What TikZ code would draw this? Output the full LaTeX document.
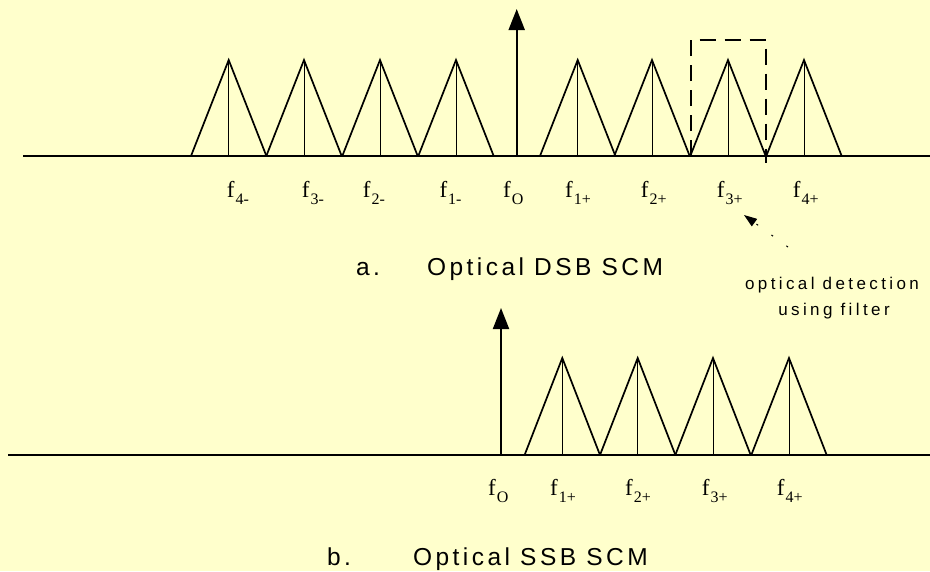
\documentclass[tikz,border=0pt]{standalone}
\usepackage{fontspec}
\setmainfont{Liberation Serif}
\newfontfamily\capfont[LetterSpace=14]{Liberation Sans}
\newfontfamily\notefont[LetterSpace=20]{Liberation Sans}
\usetikzlibrary{arrows.meta}
\definecolor{bgyellow}{RGB}{255,255,204}
\newcommand\fsub[1]{\kern1pt\raisebox{-7pt}{\fontsize{16}{16}\selectfont #1}}
\begin{document}
\begin{tikzpicture}[x=1pt,y=-1pt,
  axis/.style={line width=2.2pt},
  tri/.style={line width=1.7pt, line join=miter},
  mid/.style={line width=0.9pt},
  carrier/.style={line width=2pt,-{Triangle[length=21pt,width=16pt]}},
  flab/.style={inner sep=0pt, anchor=base west, font=\fontsize{23}{23}\selectfont},
  captxt/.style={inner sep=0pt, anchor=base west, font=\capfont\fontsize{24.5}{24.5}\selectfont},
  notetxt/.style={inner sep=0pt, anchor=base, font=\notefont\fontsize{17}{17}\selectfont},
  filt/.style={line width=2pt, dash pattern=on 16pt off 9pt},
  ptr/.style={line width=1pt, dash pattern=on 2pt off 16.5pt, -{Triangle[length=13pt,width=9pt]}}
]
\fill[bgyellow] (0,0) rectangle (930,571);
\useasboundingbox (0,0) rectangle (930,571);

% ---------- a. DSB ----------
\draw[axis] (23,156) -- (930,156);
\foreach \a in {228.7,304,380,456,577.7,652,728,804} {
  \draw[tri] (\a-37.7,156) -- (\a,60) -- (\a+37.7,156);
  \draw[mid] (\a,60) -- (\a,156);
}
\coordinate (c0a) at (516.7,156);
\coordinate (c0at) at (516.7,9);
\draw[carrier] (c0a) -- (c0at);

\draw[filt] (690.7,156) -- (690.7,40) -- (766,40) -- (766,163);

\node[flab] (t4m) at (226.7,197) {f\fsub{4-}};
\node[flab] (t3m) at (301.7,197) {f\fsub{3-}};
\node[flab] (t2m) at (362.7,197) {f\fsub{2-}};
\node[flab] (t1m) at (439.3,197) {f\fsub{1-}};
\node[flab] (t0)  at (503,197) {f\fsub{O}};
\node[flab] (t1p) at (565,197) {f\fsub{1+}};
\node[flab] (t2p) at (640.7,197) {f\fsub{2+}};
\node[flab] (t3p) at (716.7,197) {f\fsub{3+}};
\node[flab] (t4p) at (792.7,197) {f\fsub{4+}};

\node[captxt] (capa) at (356,275) {a.};
\node[captxt] (capat) at (427,275) {Optical DSB SCM};

\node[notetxt] (note1) at (832,289) {optical detection};
\node[notetxt] (note2) at (834,315) {using filter};
\coordinate (ptrs) at (788,247);
\coordinate (ptre) at (744,215);
\draw[ptr] (ptrs) -- (ptre);

% ---------- b. SSB ----------
\draw[axis] (8,455) -- (930,455);
\foreach \a in {562.3,637.7,713,789} {
  \draw[tri] (\a-37.7,455) -- (\a,358) -- (\a+37.7,455);
  \draw[mid] (\a,358) -- (\a,455);
}
\coordinate (c0b) at (501,455);
\coordinate (c0bt) at (501,308);
\draw[carrier] (c0b) -- (c0bt);

\node[flab] (b0)  at (488,495) {f\fsub{O}};
\node[flab] (b1p) at (550,495) {f\fsub{1+}};
\node[flab] (b2p) at (625,495) {f\fsub{2+}};
\node[flab] (b3p) at (701.7,495) {f\fsub{3+}};
\node[flab] (b4p) at (776.7,495) {f\fsub{4+}};

\node[captxt] (capb) at (327,565) {b.};
\node[captxt] (capbt) at (413,565) {Optical SSB SCM};
\end{tikzpicture}
\end{document}
